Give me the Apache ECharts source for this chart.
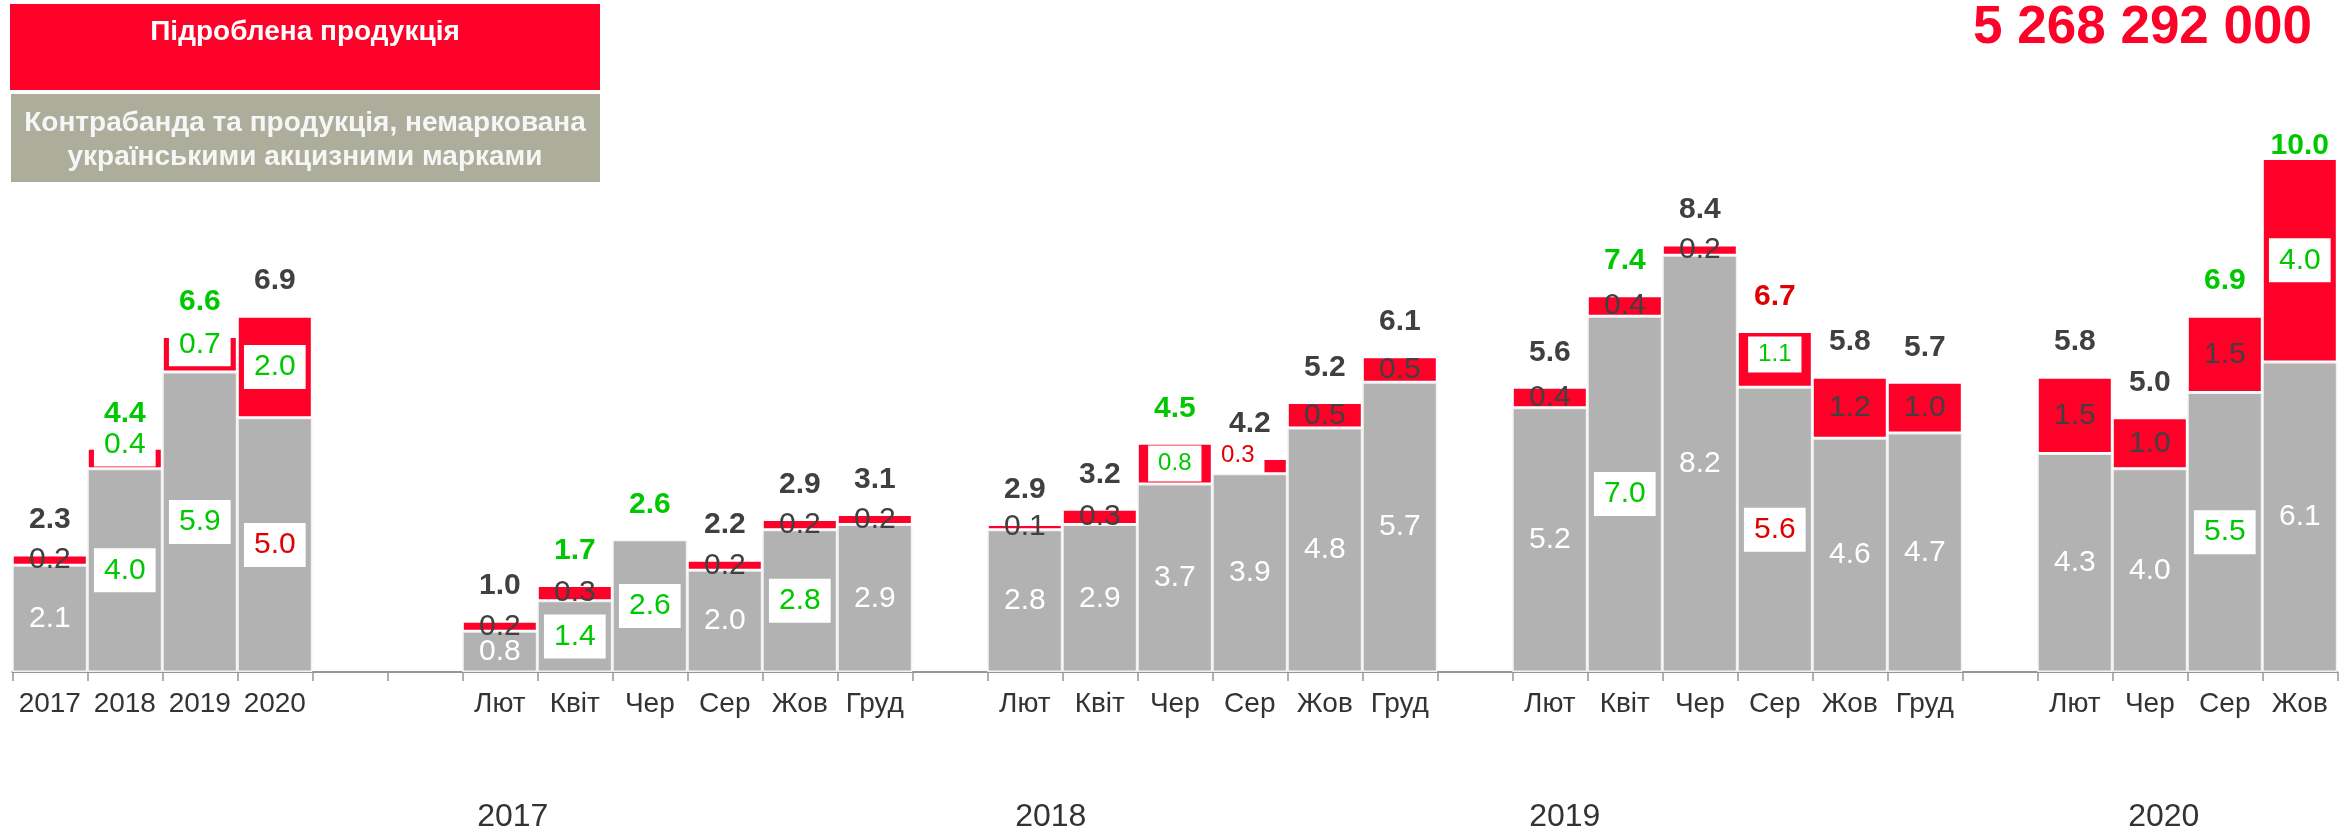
<!DOCTYPE html>
<html><head><meta charset="utf-8">
<script src="https://cdn.jsdelivr.net/npm/echarts@6/dist/echarts.min.js"></script>
<style>html,body{margin:0;padding:0;background:#fff}#c{width:2348px;height:832px}</style>
</head><body><div id="c"></div>
<script>
// ---------------- DATA ----------------
const categories = ['2017','2018','2019','2020','','','Лют','Квіт','Чер','Сер','Жов','Груд','','Лют','Квіт','Чер','Сер','Жов','Груд','','Лют','Квіт','Чер','Сер','Жов','Груд','','Лют','Чер','Сер','Жов'];
const grayValues  = [2.1,4.0,5.9,5.0,null,null,0.8,1.4,2.6,2.0,2.8,2.9,null,2.8,2.9,3.7,3.9,4.8,5.7,null,5.2,7.0,8.2,5.6,4.6,4.7,null,4.3,4.0,5.5,6.1];
const redValues   = [0.2,0.4,0.7,2.0,null,null,0.2,0.3,0,0.2,0.2,0.2,null,0.1,0.3,0.8,0.3,0.5,0.5,null,0.4,0.4,0.2,1.1,1.2,1.0,null,1.5,1.0,1.5,4.0];
const totalValues = [2.3,4.4,6.6,6.9,null,null,1.0,1.7,2.6,2.2,2.9,3.1,null,2.9,3.2,4.5,4.2,5.2,6.1,null,5.6,7.4,8.4,6.7,5.8,5.7,null,5.8,5.0,6.9,10.0];
const yearGroups = ['2017','2018','2019','2020'];
const legendNames = ['Підроблена продукція','Контрабанда та продукція, немаркована\nукраїнськими акцизними марками'];
const headline = '5 268 292 000';

// ---------------- STYLE ----------------
const FONT = "'Liberation Sans', Arial, sans-serif";
const C = { gray:'#b2b2b2', red:'#fe0028', dark:'#404040', green:'#00c800', redText:'#e00000', legendGray:'#adad9c' };
const grayHighlight = {1:'g',2:'g',3:'r',7:'g',8:'g',10:'g',21:'g',23:'r',29:'g'};
const redHighlight  = {1:'g',2:'g',3:'g',15:'g',16:'r',23:'g',30:'g'};
const totalHighlight = {1:'g',2:'g',7:'g',8:'g',15:'g',21:'g',23:'r',29:'g',30:'g'};
const redSmall = {15:1,16:1,23:1};
const redOffset = {1:[0,-14],2:[0,-10],16:[-12,-11],23:[0,-5]};
const totalOffset = {30:[0,22]};
const yearAnchor = [6,13,20,28];
const yearDx = [13,26,15,14];

function hlColor(k){ return k==='g' ? C.green : C.redText; }

const grayData = grayValues.map((v,i)=>{
  if (v==null) return null;
  const k = grayHighlight[i];
  const label = k ? {color:hlColor(k), backgroundColor:'#fff', padding:[7,10]} : {color:'#fff'};
  return {value:v, label};
});
const redData = redValues.map((v,i)=>{
  if (v==null) return null;
  const k = redHighlight[i];
  const fs = redSmall[i] ? 24 : 30;
  const label = k ? {color:hlColor(k), backgroundColor:'#fff', padding: redSmall[i]?[6,10]:[7,10], fontSize:fs}
                  : {color:C.dark, fontSize:fs};
  if (redOffset[i]) label.offset = redOffset[i];
  return {value:v, label};
});
const totalData = totalValues.map((v,i)=>{
  if (v==null) return null;
  const k = totalHighlight[i];
  const label = {color: k ? hlColor(k) : C.dark};
  if (totalOffset[i]) label.offset = totalOffset[i];
  return {value:0, label};
});

const chart = echarts.init(document.getElementById('c'), null, {renderer:'canvas'});
const option = {
  animation:false,
  textStyle:{fontFamily:FONT},
  grid:{left:12.3, right:10.7, top:62, bottom:160, containLabel:false},
  xAxis:{
    type:'category', data:categories,
    axisLine:{lineStyle:{color:'#959595', width:2}},
    axisTick:{show:true, interval:0, length:9, lineStyle:{color:'#959595', width:1.5}},
    axisLabel:{interval:0, fontSize:28, color:'#333', margin:18, fontFamily:FONT}
  },
  yAxis:{type:'value', min:0, max:12, show:false, splitLine:{show:false}},
  series:[
    {name:'gray', type:'bar', stack:'s', barCategoryGap:'0%', data:grayData,
     itemStyle:{color:C.gray, borderColor:'#f2f2f2', borderWidth:1.5},
     label:{show:true, position:'inside', fontSize:30, fontFamily:FONT,
            formatter:p=>p.value.toFixed(1)}},
    {name:'red', type:'bar', stack:'s', barCategoryGap:'0%', data:redData,
     itemStyle:{color:C.red, borderColor:'#ffffff', borderWidth:1.5},
     label:{show:true, position:'inside', fontSize:30, fontFamily:FONT,
            formatter:p=> p.value ? p.value.toFixed(1) : ''}},
    {name:'total', type:'bar', stack:'s', barCategoryGap:'0%', data:totalData,
     itemStyle:{color:'rgba(0,0,0,0)'},
     label:{show:true, position:'top', distance:20, fontSize:30, fontWeight:'bold', fontFamily:FONT,
            formatter:p=> totalValues[p.dataIndex].toFixed(1)}}
  ],
  graphic:[
    {type:'rect', left:10, top:4, shape:{width:590, height:86}, style:{fill:C.red}},
    {type:'text', x:305, y:32, style:{text:legendNames[0], font:'bold 28px '+FONT, fill:'#fff', align:'center', verticalAlign:'middle'}},
    {type:'rect', left:11, top:94, shape:{width:589, height:88}, style:{fill:C.legendGray}},
    {type:'text', x:305, y:140, style:{text:legendNames[1], font:'bold 28px '+FONT, fill:'#f6f6f6', align:'center', verticalAlign:'middle', lineHeight:34}},
    {type:'text', x:2312, y:28, style:{text:headline, font:'bold 53px '+FONT, fill:C.red, align:'right', verticalAlign:'middle'}}
  ]
};
chart.setOption(option);

// year group labels under the month axis, positioned via the category scale
const yearGraphics = yearGroups.map((y,i)=>{
  const px = chart.convertToPixel({xAxisIndex:0}, yearAnchor[i]);
  return {type:'text', x:px + yearDx[i], y:817, style:{text:y, font:'32px '+FONT, fill:'#333', align:'center', verticalAlign:'middle'}};
});
chart.setOption({graphic: option.graphic.concat(yearGraphics)});
</script>
</body></html>
